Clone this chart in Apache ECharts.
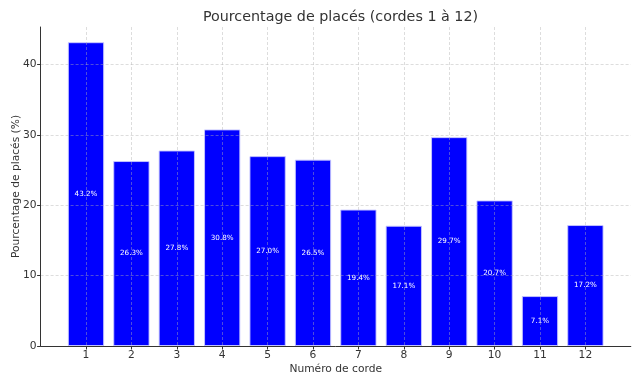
<!DOCTYPE html>
<html><head><meta charset="utf-8">
<script src="https://cdn.jsdelivr.net/npm/echarts@6/dist/echarts.min.js"></script>
<style>html,body{margin:0;padding:0;background:#fff}#c{width:640px;height:384px}</style>
</head><body><div id="c"></div>
<script>
const categories = [1,2,3,4,5,6,7,8,9,10,11,12];
const values = [43.2, 26.3, 27.8, 30.8, 27.0, 26.5, 19.4, 17.1, 29.7, 20.7, 7.1, 17.2];
const yTicks = [0,10,20,30,40];
const font = 'DejaVu Sans';
const chart = echarts.init(document.getElementById('c'));
const gridLine = {show:true, lineStyle:{color:'rgba(176,176,176,0.55)', type:[3,2], width:0.8}};
chart.setOption({
  animation:false,
  title:{text:'Pourcentage de placés (cordes 1 à 12)', left:335.5, top:5, textAlign:'center',
    textStyle:{fontFamily:font, fontSize:14.3, fontWeight:'normal', color:'#333'}},
  grid:{left:40.6, right:9.2, top:27, bottom:38, containLabel:false, outerBoundsMode:'none'},
  xAxis:{type:'value', min:0, max:13, interval:1, z:5,
    name:'Numéro de corde', nameLocation:'middle', nameGap:17.5, nameMoveOverlap:false,
    nameTextStyle:{fontFamily:font, fontSize:10.7, color:'#333', verticalAlign:'top'},
    axisLine:{show:true, lineStyle:{color:'#333', width:1}},
    axisTick:{show:true, length:3.5, lineStyle:{color:'#333'}, customValues:categories},
    axisLabel:{fontFamily:font, fontSize:10.7, color:'#333', margin:4, customValues:categories},
    splitLine:gridLine},
  yAxis:{type:'value', min:0, max:45.36, interval:10, z:5,
    name:'Pourcentage de placés (%)', nameLocation:'middle', nameGap:19, nameMoveOverlap:false,
    nameTextStyle:{fontFamily:font, fontSize:10.7, color:'#333'},
    axisLine:{show:true, lineStyle:{color:'#333', width:1}},
    axisTick:{show:true, length:3.5, lineStyle:{color:'#333'}, customValues:yTicks},
    axisLabel:{fontFamily:font, fontSize:10.7, color:'#333', margin:4, customValues:yTicks},
    splitLine:gridLine},
  series:[{type:'bar', z:2, barWidth:36.3,
    data: categories.map((c,i)=>[c, values[i]]),
    itemStyle:{color:'#0000ff', borderColor:'rgba(200,200,255,0.9)', borderWidth:1},
    label:{show:true, position:'inside', fontFamily:font, fontSize:7.2, color:'#fff',
      formatter:p=>p.value[1].toFixed(1)+'%'}}]
});
</script></body></html>
